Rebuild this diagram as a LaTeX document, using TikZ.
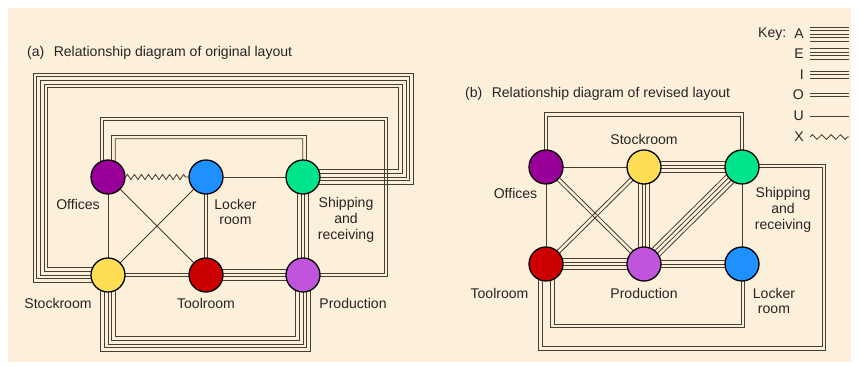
\documentclass[tikz,border=0pt]{standalone}
\usepackage{fontspec}
\setmainfont{Liberation Sans}
\usetikzlibrary{calc,decorations.pathmorphing,backgrounds}
\definecolor{cream}{RGB}{253,240,218}
\definecolor{linec}{RGB}{70,62,50}
\definecolor{cOff}{RGB}{153,0,153}
\definecolor{cLoc}{RGB}{30,144,255}
\definecolor{cShp}{RGB}{0,228,140}
\definecolor{cStk}{RGB}{255,221,85}
\definecolor{cTool}{RGB}{204,0,0}
\definecolor{cProd}{RGB}{192,85,220}
\newcommand\multiline[4][3.1]{%
  \foreach \kk in {1,...,#2}{%
    \pgfmathsetmacro\dd{(\kk-(#2+1)/2)*#1}%
    \draw[ln] ($(#3)!\dd pt!90:(#4)$) -- ($(#4)!\dd pt!-90:(#3)$);
  }}
\begin{document}
\begin{tikzpicture}[x=0.03cm,y=-0.03cm,
  dept/.style={circle,draw=black,line width=1.1pt,minimum size=1.02cm,inner sep=0pt},
  ln/.style={draw=linec,line width=0.7pt},
  zz/.style={ln,decorate,decoration={zigzag,amplitude=2.2pt,segment length=6pt}},
  lbl/.style={font=\fontsize{12}{13.6}\selectfont,inner sep=0pt,align=center,text=black!85}]
\useasboundingbox (0,0) rectangle (859,367);
% ---------- nodes (a)
\node[dept,fill=cOff]  (aO) at (108,177) {};
\node[dept,fill=cLoc]  (aL) at (206,177) {};
\node[dept,fill=cShp]  (aS) at (303,177) {};
\node[dept,fill=cStk]  (aK) at (108,275) {};
\node[dept,fill=cTool] (aT) at (206,275) {};
\node[dept,fill=cProd] (aP) at (303,275) {};
% ---------- nodes (b)
\node[dept,fill=cOff]  (bO) at (546,167) {};
\node[dept,fill=cStk]  (bK) at (644,167) {};
\node[dept,fill=cShp]  (bS) at (742,167) {};
\node[dept,fill=cTool] (bT) at (546,264) {};
\node[dept,fill=cProd] (bP) at (644,264) {};
\node[dept,fill=cLoc]  (bL) at (742,264) {};
% ---------- key coordinates
\coordinate (kA1) at (810,34);  \coordinate (kA2) at (849,34);
\coordinate (kE1) at (810,54);  \coordinate (kE2) at (849,54);
\coordinate (kI1) at (810,74.5);\coordinate (kI2) at (849,74.5);
\coordinate (kO1) at (810,95);  \coordinate (kO2) at (849,95);
\coordinate (kU1) at (810,116); \coordinate (kU2) at (849,116);
\coordinate (kX1) at (810,137); \coordinate (kX2) at (849,137);
\begin{scope}[on background layer]
\fill[white] (0,0) rectangle (859,367);
\fill[cream] (8,8) rectangle (851,362);
% ===== (a) straight connectors
\draw[zz] (aO.east) -- (aL.west);
\multiline{1}{aL.center}{aS.center}
\multiline{1}{aO.center}{aK.center}
\multiline{1}{aO.center}{aT.center}
\multiline{1}{aL.center}{aK.center}
\multiline{2}{aL.center}{aT.center}
\multiline{2}{aK.center}{aT.center}
\multiline{4}{aT.center}{aP.center}
\multiline{4}{aS.center}{aP.center}
% ===== (a) loops
% Stockroom - Shipping (5 lines)
\foreach \kk in {-2,...,2}{%
  \pgfmathsetmacro\dd{\kk*3.7}%
  \pgfmathsetmacro\xl{40.5-\dd}\pgfmathsetmacro\yt{80.5-\dd}\pgfmathsetmacro\xr{406+\dd}%
  \draw[ln] ($(aK.center)+(0,\dd)$) -| (\xl,\yt) -- (\xr,\yt) |- ($(aS.center)+(0,\dd)$);
}
% Offices - Production (2 lines)
\foreach \kk in {-0.5,0.5}{%
  \pgfmathsetmacro\dd{\kk*3.6}%
  \pgfmathsetmacro\xs{-6-\dd}\pgfmathsetmacro\yt{119-\dd}\pgfmathsetmacro\xr{386+\dd}%
  \draw[ln] ($(aO.center)+(\xs,0)$) |- (\xr,\yt) |- ($(aP.center)+(0,\dd)$);
}
% Offices - Shipping (2 lines)
\foreach \kk in {-0.5,0.5}{%
  \pgfmathsetmacro\dd{\kk*3.6}%
  \pgfmathsetmacro\xs{5.5-\dd}\pgfmathsetmacro\yt{137-\dd}\pgfmathsetmacro\xe{1.5+\dd}%
  \pgfmathsetmacro\xr{304.5+\dd}%
  \draw[ln] ($(aO.center)+(\xs,0)$) |- (\xr,\yt) -- ($(aS.center)+(\xe,0)$);
}
% Stockroom - Production bottom (5 lines)
\foreach \kk in {-2,...,2}{%
  \pgfmathsetmacro\dd{\kk*3.7}%
  \pgfmathsetmacro\xs{0-\dd}\pgfmathsetmacro\yb{69+\dd}%
  \draw[ln] ($(aK.center)+(\xs,0)$) |- ($(aP.center)+(\dd,\yb)$) -- ($(aP.center)+(\dd,0)$);
}
% ===== (b) straight connectors
\multiline{1}{bO.center}{bK.center}
\multiline{4}{bK.center}{bS.center}
\multiline{1}{bO.center}{bT.center}
\multiline{2}{bO.center}{bP.center}
\multiline{2}{bK.center}{bT.center}
\multiline{4}{bK.center}{bP.center}
\multiline{4}{bS.center}{bP.center}
\multiline{4}{bT.center}{bP.center}
\multiline{3}{bP.center}{bL.center}
\multiline{1}{bS.center}{bL.center}
% ===== (b) loops
% Offices - Shipping top (2 lines)
\foreach \kk in {-0.5,0.5}{%
  \pgfmathsetmacro\dd{\kk*3.6}%
  \pgfmathsetmacro\xs{0-\dd}\pgfmathsetmacro\yt{-52.5-\dd}%
  \draw[ln] ($(bO.center)+(\xs,0)$) |- ($(bS.center)+(\dd,\yt)$) -- ($(bS.center)+(\dd,0)$);
}
% Toolroom - Locker inner bottom (2 lines)
\foreach \kk in {-0.5,0.5}{%
  \pgfmathsetmacro\dd{\kk*3.6}%
  \pgfmathsetmacro\xs{6.5-\dd}\pgfmathsetmacro\yb{62+\dd}\pgfmathsetmacro\xe{1+\dd}%
  \draw[ln] ($(bT.center)+(\xs,0)$) |- ($(bL.center)+(\xe,\yb)$) -- ($(bL.center)+(\xe,0)$);
}
% Toolroom - Shipping outer (2 lines)
\foreach \kk in {-0.5,0.5}{%
  \pgfmathsetmacro\dd{\kk*3.6}%
  \pgfmathsetmacro\xs{-5.5-\dd}\pgfmathsetmacro\yb{348.5+\dd}\pgfmathsetmacro\xr{824+\dd}%
  \pgfmathsetmacro\ye{-1-\dd}%
  \draw[ln] ($(bT.center)+(\xs,0)$) |- (\xr,\yb) |- ($(bS.center)+(0,\ye)$);
}
% ===== key lines
\multiline[3]{5}{kA1}{kA2}
\multiline[3]{4}{kE1}{kE2}
\multiline[3]{3}{kI1}{kI2}
\multiline[3]{2}{kO1}{kO2}
\multiline[3]{1}{kU1}{kU2}
\draw[zz,decoration={segment length=8pt,amplitude=2pt}] (kX1) -- (kX2);
\end{scope}
% ---------- titles
\node[lbl,anchor=base west] (tA) at (27,57) {(a)\hspace{8pt}Relationship diagram of original layout};
\node[lbl,anchor=base west] (tB) at (465,98) {(b)\hspace{8pt}Relationship diagram of revised layout};
% ---------- key text
\node[lbl,anchor=west] (kKey) at (758,34) {Key:};
\node[lbl,anchor=east] (kA) at (804,34) {A};
\node[lbl,anchor=east] (kE) at (804,54) {E};
\node[lbl,anchor=east] (kI) at (804,74.5) {I};
\node[lbl,anchor=east] (kO) at (804,95) {O};
\node[lbl,anchor=east] (kU) at (804,116) {U};
\node[lbl,anchor=east] (kX) at (804,137) {X};
% ---------- labels (a)
\node[lbl,anchor=east] (laO) at (100,204) {Offices};
\node[lbl] (laL) at (235.5,212) {Locker\\room};
\node[lbl] (laS) at (346,220) {Shipping\\and\\receiving};
\node[lbl] (laK) at (58,303) {Stockroom};
\node[lbl] (laT) at (206,303) {Toolroom};
\node[lbl] (laP) at (353,303) {Production};
% ---------- labels (b)
\node[lbl] (lbK) at (644,139) {Stockroom};
\node[lbl] (lbO) at (515.5,193) {Offices};
\node[lbl] (lbS) at (783,210) {Shipping\\and\\receiving};
\node[lbl] (lbT) at (499.5,293) {Toolroom};
\node[lbl] (lbP) at (644,293) {Production};
\node[lbl] (lbL) at (774,301) {Locker\\room};
\end{tikzpicture}
\end{document}
